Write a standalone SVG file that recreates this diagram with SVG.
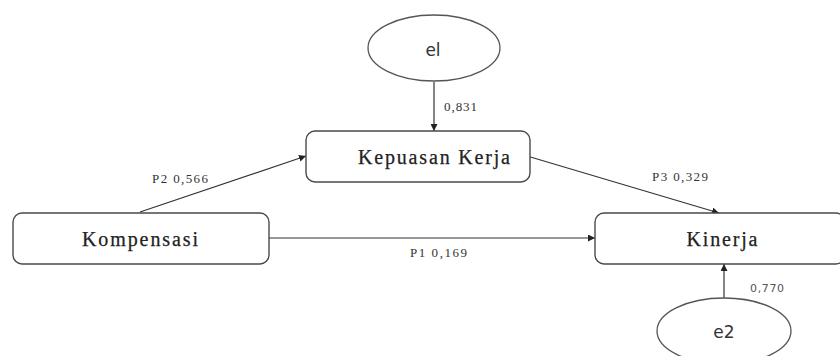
<svg xmlns="http://www.w3.org/2000/svg" width="840" height="356" viewBox="0 0 840 356">
  <defs>
    <marker id="arrow" viewBox="0 0 10 10" refX="10" refY="5" markerWidth="7" markerHeight="7" orient="auto" markerUnits="userSpaceOnUse">
      <path d="M0,0 L10,5 L0,10 Z" fill="#222"/>
    </marker>
  </defs>
  <style>
    .box { fill: #ffffff; stroke: #4a4a4a; stroke-width: 1.4; }
    .err { fill: #ffffff; stroke: #555555; stroke-width: 1.3; }
    .name { font-family: "Liberation Serif", serif; font-size: 20px; fill: #222222; stroke: #222222; stroke-width: 0.25; text-anchor: middle; }
    .errname { font-family: "DejaVu Sans", sans-serif; font-size: 17px; fill: #333333; text-anchor: middle; }
    .coef { font-family: "Liberation Serif", serif; font-size: 13px; fill: #333333; }
    .coefs { font-family: "DejaVu Sans", sans-serif; font-size: 11px; fill: #555555; }
    .link { stroke: #333333; stroke-width: 1.2; fill: none; marker-end: url(#arrow); }
  </style>

  <rect width="840" height="356" fill="#ffffff"/>

  <!-- connectors -->
  <g id="connectors">
    <line class="link" x1="434" y1="82" x2="434" y2="131"/>
    <line class="link" x1="140" y1="212" x2="306" y2="156"/>
    <line class="link" x1="527" y1="156" x2="719" y2="213"/>
    <line class="link" x1="269" y1="238" x2="595" y2="238"/>
    <line class="link" x1="724" y1="298" x2="724" y2="264"/>
    <text class="coef" x="444" y="111" textLength="33" lengthAdjust="spacing">0,831</text>
    <text class="coef" x="152" y="183" textLength="56" lengthAdjust="spacing">P2 0,566</text>
    <text class="coef" x="652" y="181" textLength="56" lengthAdjust="spacing">P3 0,329</text>
    <text class="coef" x="410" y="257" textLength="57" lengthAdjust="spacing">P1 0,169</text>
    <text class="coefs" x="750" y="292" textLength="34" lengthAdjust="spacing">0,770</text>
  </g>

  <!-- error term e1 -->
  <g id="e1">
    <ellipse class="err" cx="434" cy="48" rx="66" ry="33"/>
    <text class="errname" x="433" y="56">el</text>
  </g>

  <!-- mediator -->
  <g id="kepuasan-kerja">
    <rect class="box" x="306" y="131" width="224" height="51" rx="9"/>
    <text class="name" x="434" y="164" textLength="152" lengthAdjust="spacing">Kepuasan Kerja</text>
  </g>

  <!-- independent variable -->
  <g id="kompensasi">
    <rect class="box" x="13" y="213" width="256" height="51" rx="9"/>
    <text class="name" x="140" y="246" textLength="116" lengthAdjust="spacing">Kompensasi</text>
  </g>

  <!-- dependent variable -->
  <g id="kinerja">
    <rect class="box" x="595" y="213" width="250" height="51" rx="9"/>
    <text class="name" x="722" y="246" textLength="71" lengthAdjust="spacing">Kinerja</text>
  </g>

  <!-- error term e2 -->
  <g id="e2">
    <ellipse class="err" cx="724" cy="331" rx="67" ry="33"/>
    <text class="errname" x="724" y="338">e2</text>
  </g>
</svg>
